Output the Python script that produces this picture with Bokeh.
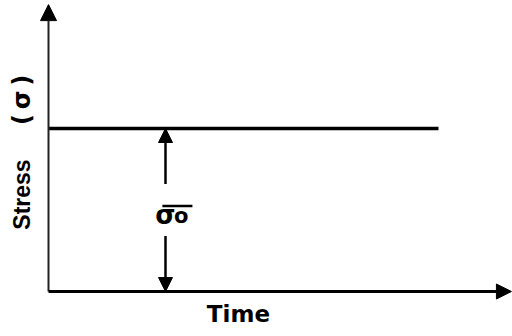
import math
from bokeh.plotting import figure
from bokeh.models import Range1d, Arrow, NormalHead, Label
from bokeh.embed import file_html
from bokeh.resources import INLINE

# ---- data (normalised units) ----
time = [0.0, 10.0]          # constant stress held over this time span
stress = [1.0, 1.0]         # sigma_0 (normalised)
sigma0 = 1.0
t_mark = 3.0                # position of the sigma_0 dimension arrow
time_axis_end = 11.87
stress_axis_end = 1.76
x_label = "Time"
y_label_main = "Stress"
y_label_sym = "(\u2009σ\u2009)"
sigma_main = "σ"
sigma_sub = "o"

W, H = 512, 336
px_x = 39.0   # pixels per time unit
px_y = 163.0  # pixels per stress unit
x0_px, y0_px = 48.0, 45.0

p = figure(width=W, height=H, output_backend="svg", toolbar_location=None,
           x_range=Range1d(-x0_px / px_x, (W - x0_px) / px_x),
           y_range=Range1d(-y0_px / px_y, (H - y0_px) / px_y),
           x_axis_location=None, y_axis_location=None, min_border=0)
p.grid.visible = False
p.outline_line_color = None
p.background_fill_color = "white"
p.border_fill_color = "white"

# axes as arrows
p.add_layout(Arrow(end=NormalHead(size=16, fill_color="black", line_color="black"),
                   x_start=0, y_start=0, x_end=0, y_end=stress_axis_end,
                   line_width=2, line_color="#222222"))
p.add_layout(Arrow(end=NormalHead(size=15, fill_color="black", line_color="black"),
                   x_start=0, y_start=0, x_end=time_axis_end, y_end=0,
                   line_width=3, line_color="black"))

# constant stress line
p.line(time, stress, line_width=3.5, line_color="black")

# sigma_0 dimension arrows
p.add_layout(Arrow(end=NormalHead(size=14, fill_color="black", line_color="black"),
                   x_start=t_mark, y_start=sigma0 * 0.66, x_end=t_mark, y_end=sigma0,
                   line_width=2.5, line_color="black"))
p.add_layout(Arrow(end=NormalHead(size=14, fill_color="black", line_color="black"),
                   x_start=t_mark, y_start=sigma0 * 0.34, x_end=t_mark, y_end=0,
                   line_width=2.5, line_color="black"))

# labels
p.add_layout(Label(x=4.87, y=-0.141, text=x_label, text_align="center",
                   text_baseline="middle", text_font="DejaVu Sans",
                   text_font_style="bold", text_font_size="23px",
                   text_color="black"))
p.add_layout(Label(x=-0.667, y=0.595, text=y_label_main, text_align="center",
                   text_baseline="middle", angle=math.pi / 2,
                   text_font="Liberation Sans", text_font_style="bold",
                   text_font_size="23px", text_color="black"))
p.add_layout(Label(x=-0.667, y=1.175, text=y_label_sym, text_align="center",
                   text_baseline="middle", angle=math.pi / 2,
                   text_font="DejaVu Sans", text_font_style="bold",
                   text_font_size="24px", text_color="black"))
p.add_layout(Label(x=2.74, y=0.47, text=sigma_main, text_align="left",
                   text_baseline="alphabetic", text_font="DejaVu Sans",
                   text_font_style="bold", text_font_size="26px",
                   text_color="black"))
p.add_layout(Label(x=3.22, y=0.462, text=sigma_sub, text_align="left",
                   text_baseline="alphabetic", text_font="DejaVu Sans",
                   text_font_style="bold", text_font_size="21px",
                   text_color="black"))
p.segment(x0=[2.92], y0=[0.524], x1=[3.69], y1=[0.524], line_width=2.5,
          line_color="black")

open("out.html", "w").write(file_html(p, INLINE))
